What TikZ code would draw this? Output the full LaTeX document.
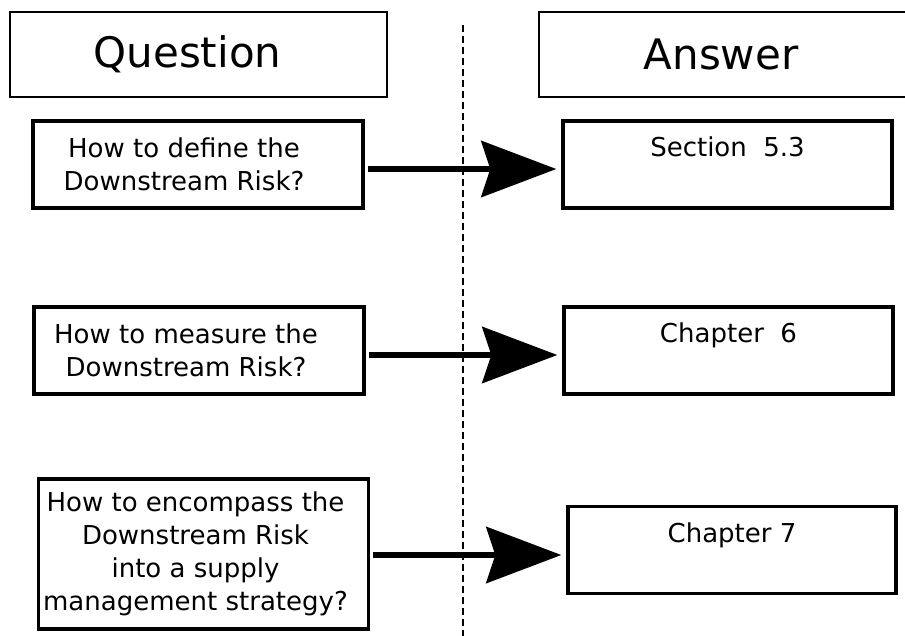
\documentclass[tikz,border=0pt]{standalone}
\usepackage{fontspec}
\setmainfont{DejaVu Sans}
\usetikzlibrary{arrows.meta}

\tikzset{
  headbox/.style={draw, line width=2pt, minimum height=85pt},
  headtext/.style={font=\fontsize{42}{50}\selectfont},
  qbox/.style={draw, line width=3.3pt, minimum width=330pt},
  qtext/.style={align=center, font=\fontsize{26}{33}\selectfont},
  abox/.style={draw, line width=3.3pt, minimum width=329pt, inner ysep=0pt, text height=35.5pt, text depth=51.5pt, font=\fontsize{26}{33}\selectfont},
  link/.style={line width=6.5pt, -{Stealth[length=75pt, width=56pt, inset=9pt]}, shorten <=3pt, shorten >=5pt},
  divider/.style={line width=1.5pt, dash pattern=on 7pt off 4pt}
}

\begin{document}
\begin{tikzpicture}[x=1pt, y=-1pt]
\useasboundingbox (0,0) rectangle (905,635);
\clip (0,0) rectangle (905,635);
% column heads
\node[headbox, minimum width=377pt, label={[headtext, xshift=-11pt]center:Question}] (qhead) at (198.5,54.5) {};
\node[headbox, minimum width=369pt, label={[headtext, xshift=-2.5pt]center:Answer}] (ahead) at (723.5,54.5) {};
\draw[divider] (463,25) -- (463,640);
% questions
\node[qbox, minimum height=87pt, label={[qtext, xshift=-14pt]center:{How to define the\\Downstream Risk?}}] (q1) at (198,164.5) {};
\node[qbox, minimum height=87pt, label={[qtext, xshift=-13pt]center:{How to measure the\\Downstream Risk?}}] (q2) at (199,350.5) {};
\node[qbox, minimum height=150pt, label={[qtext, xshift=-8pt]center:{How to encompass the\\Downstream Risk\\into a supply\\management strategy?}}] (q3) at (203.5,554) {};
% answers
\node[abox] (a1) at (727.5,164.5) {Section\ \ 5.3};
\node[abox] (a2) at (728.5,350.5) {Chapter\ \ 6};
\node[abox, minimum width=328pt] (a3) at (732,550) {Chapter 7};
\foreach \i/\dy in {1/4.5pt, 2/4.5pt, 3/1pt}
  \draw[link] ([yshift=-\dy]q\i.east) -- ([yshift=-\dy]q\i.east -| a\i.west);
\end{tikzpicture}
\end{document}
